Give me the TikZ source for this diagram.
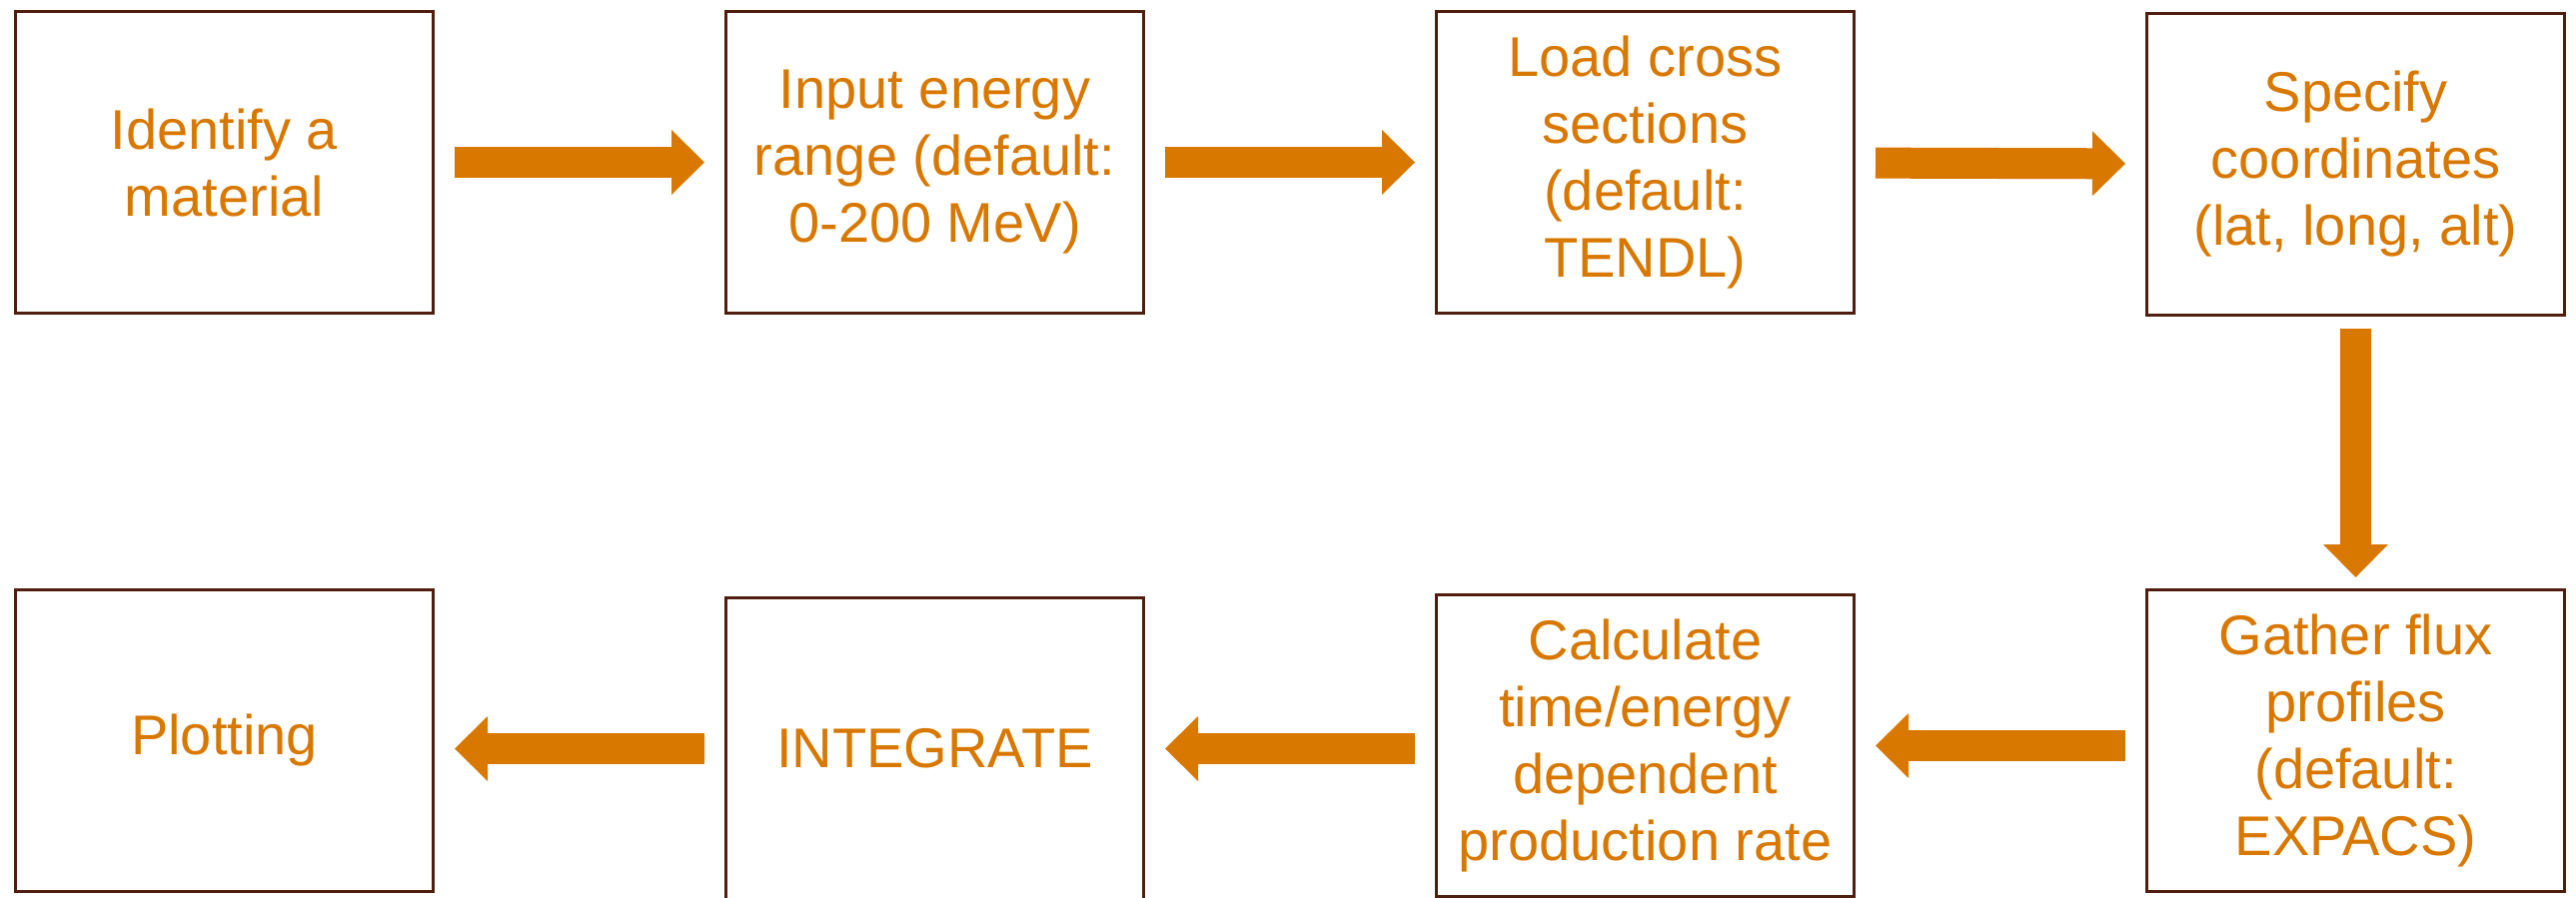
\documentclass[tikz,border=0pt]{standalone}
\usepackage{fontspec}
\setmainfont{Liberation Sans}
\usetikzlibrary{arrows.meta, positioning}
\definecolor{flowora}{RGB}{217,120,0}
\definecolor{boxbrown}{RGB}{80,30,15}
\begin{document}
\begin{tikzpicture}[x=1pt, y=-1pt,
  box/.style={draw=boxbrown, line width=3pt, fill=white, align=center, text=flowora, inner sep=0pt, minimum width=418pt, minimum height=302pt, font=\fontsize{56}{67}\selectfont},
  flow/.style={draw=flowora, line width=31pt, -{Triangle[length=33pt, width=65pt, line width=0pt]}, shorten <=20pt, shorten >=20pt}]
\useasboundingbox (0,0) rectangle (2578,898);
% top row, left to right
\node[box] (ident) at (224.5,162.5) {Identify a\\material};
\node[box, right=290pt of ident] (energy) {Input energy\\range (default:\\0-200 MeV)};
\node[box, right=290pt of energy] (xsec) {Load cross\\sections\\(default:\\TENDL)};
\node[box, right=290pt of xsec, yshift=-2pt] (coords) {Specify\\coordinates\\(lat, long, alt)};
% bottom row, right to left
\node[box, below=272pt of coords] (flux) {Gather flux\\profiles\\(default:\\EXPACS)};
\node[box, left=290pt of flux, yshift=-5pt] (rate) {Calculate\\time/energy\\dependent\\production rate};
\node[box, left=290pt of rate, yshift=-3pt] (integ) {INTEGRATE};
\node[box, left=290pt of integ, yshift=8pt] (plot) {Plotting};
\draw[flow] (ident) -- (energy);
\draw[flow] (energy) -- (xsec);
\draw[flow] (xsec) -- (coords);
\draw[flow, shorten <=12pt, shorten >=11pt] (coords) -- (flux);
\draw[flow] (flux.west |- rate) -- (rate.east);
\draw[flow] (rate.west |- integ) -- (integ.east);
\draw[flow] (integ.west) -- (plot.east |- integ);
\end{tikzpicture}
\end{document}
